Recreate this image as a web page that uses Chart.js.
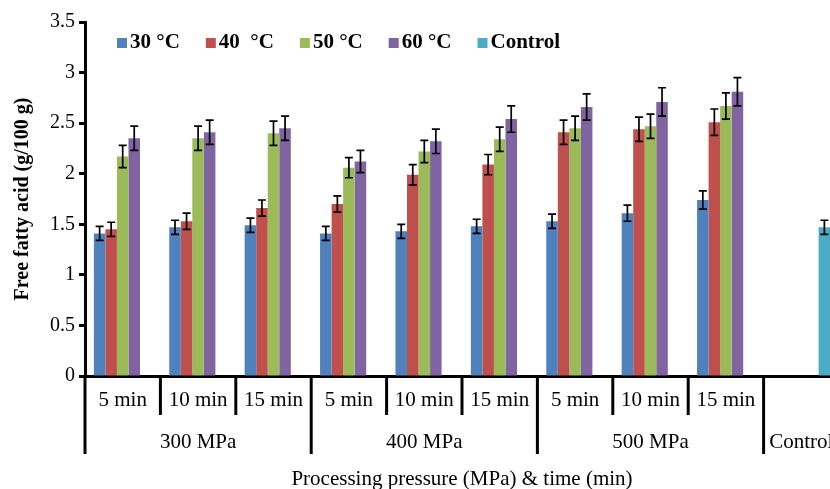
<!DOCTYPE html>
<html lang="en">
<head>
<meta charset="UTF-8">
<title>Free fatty acid</title>
<script src="https://cdn.jsdelivr.net/npm/chart.js"></script>
<style>
  html, body { margin: 0; padding: 0; background: #fff; overflow: hidden; }
  .chart-container { width: 850px; height: 489px; position: relative; }
</style>
</head>
<body>
<div class="chart-container"><canvas id="chart"></canvas></div>
<script>
const timeLabels = ['5 min', '10 min', '15 min', '5 min', '10 min', '15 min', '5 min', '10 min', '15 min', ''];
const pressureLabels = ['300 MPa', '400 MPa', '500 MPa', 'Control'];
const pressureSpans = [3, 3, 3, 1];

const seriesNames = ['30 °C', '40  °C', '50 °C', '60 °C', 'Control'];
const seriesColors = ['#4F81BD', '#C0504D', '#9BBB59', '#8064A2', '#4BACC6'];

const t30 = [1.41, 1.47, 1.49, 1.41, 1.43, 1.48, 1.53, 1.61, 1.74, null];
const t40 = [1.45, 1.53, 1.66, 1.70, 1.99, 2.09, 2.41, 2.44, 2.51, null];
const t50 = [2.17, 2.35, 2.40, 2.06, 2.22, 2.34, 2.45, 2.47, 2.67, null];
const t60 = [2.35, 2.41, 2.45, 2.12, 2.32, 2.54, 2.66, 2.71, 2.81, null];
const control = [null, null, null, null, null, null, null, null, null, 1.47];

// half length of the error bars
const err30 = [0.07, 0.07, 0.07, 0.07, 0.07, 0.07, 0.07, 0.08, 0.09, null];
const err40 = [0.07, 0.08, 0.08, 0.08, 0.10, 0.10, 0.12, 0.12, 0.13, null];
const err50 = [0.11, 0.12, 0.12, 0.10, 0.11, 0.12, 0.12, 0.12, 0.13, null];
const err60 = [0.12, 0.12, 0.12, 0.11, 0.12, 0.13, 0.13, 0.14, 0.14, null];
const errControl = [null, null, null, null, null, null, null, null, null, 0.07];

const yTicks = [0, 0.5, 1, 1.5, 2, 2.5, 3, 3.5];

const serif = "'Times New Roman', 'Liberation Serif', serif";

const allValues = [t30, t40, t50, t60, control];
const allErrors = [err30, err40, err50, err60, errControl];

const errorBars = {
    id: 'errorBars',
    afterDatasetsDraw(chart) {
        const ctx = chart.ctx;
        const y = chart.scales.y;
        ctx.save();
        ctx.strokeStyle = '#000';
        ctx.lineWidth = 1.7;
        chart.data.datasets.forEach((ds, di) => {
            const meta = chart.getDatasetMeta(di);
            meta.data.forEach((bar, i) => {
                const v = ds.data[i];
                const e = ds.errors[i];
                if (v == null || e == null) return;
                const top = y.getPixelForValue(v + e);
                const bot = y.getPixelForValue(v - e);
                ctx.beginPath();
                ctx.moveTo(bar.x, top); ctx.lineTo(bar.x, bot);
                ctx.moveTo(bar.x - 4, top); ctx.lineTo(bar.x + 4, top);
                ctx.moveTo(bar.x - 4, bot); ctx.lineTo(bar.x + 4, bot);
                ctx.stroke();
            });
        });
        ctx.restore();
    }
};

const groupAxis = {
    id: 'groupAxis',
    afterDraw(chart) {
        const ctx = chart.ctx;
        const x = chart.scales.x;
        const base = chart.chartArea.bottom;
        const step = (x.right - x.left) / timeLabels.length;
        ctx.save();
        ctx.strokeStyle = '#000';
        ctx.lineWidth = 3;
        // boundary ticks between categories, longer ones between pressure groups
        const groupStarts = [0];
        pressureSpans.forEach(n => groupStarts.push(groupStarts[groupStarts.length - 1] + n));
        for (let i = 0; i <= timeLabels.length; i++) {
            const px = x.left + i * step;
            const long = groupStarts.includes(i);
            ctx.beginPath();
            ctx.moveTo(px, base);
            ctx.lineTo(px, base + (long ? 78 : 39));
            ctx.stroke();
        }
        ctx.fillStyle = '#000';
        ctx.font = '21px ' + serif;
        ctx.textAlign = 'center';
        ctx.textBaseline = 'middle';
        pressureLabels.forEach((lab, g) => {
            const a = x.left + groupStarts[g] * step;
            const b = x.left + groupStarts[g + 1] * step;
            ctx.fillText(lab, (a + b) / 2, base + 66);
        });

        // legend inside the plot
        let lx = 117;
        const ly = 43;
        ctx.font = 'bold 21px ' + serif;
        ctx.textAlign = 'left';
        seriesNames.forEach((name, i) => {
            ctx.fillStyle = seriesColors[i];
            ctx.fillRect(lx, ly - 5, 10, 10);
            ctx.fillStyle = '#000';
            ctx.fillText(name, lx + 13, ly);
            lx += 13 + ctx.measureText(name).width + 26;
        });
        ctx.restore();
    }
};

new Chart(document.getElementById('chart'), {
    type: 'bar',
    data: {
        labels: timeLabels,
        datasets: seriesNames.map((name, i) => ({
            label: name,
            data: allValues[i],
            errors: allErrors[i],
            backgroundColor: seriesColors[i],
            borderWidth: 0,
            categoryPercentage: 0.765,
            barPercentage: 1.0
        }))
    },
    options: {
        responsive: true,
        maintainAspectRatio: false,
        animation: false,
        layout: { padding: { top: 22, right: 11, left: 0, bottom: 0 } },
        plugins: {
            legend: { display: false },
            tooltip: { enabled: false }
        },
        scales: {
            x: {
                grid: { display: false, drawTicks: false },
                border: { display: true, color: '#000', width: 3 },
                ticks: {
                    color: '#000',
                    font: { family: serif, size: 21 },
                    padding: 12,
                    maxRotation: 0,
                    autoSkip: false
                },
                title: {
                    display: true,
                    text: 'Processing pressure (MPa) & time (min)',
                    color: '#000',
                    font: { family: serif, size: 21 },
                    padding: { top: 0, bottom: -3 }
                },
                afterFit(scale) { scale.height = 113; }
            },
            y: {
                min: 0,
                max: 3.5,
                afterBuildTicks(scale) { scale.ticks = yTicks.map(v => ({ value: v })); },
                grid: {
                    drawOnChartArea: false,
                    drawTicks: true,
                    tickLength: 6,
                    tickWidth: 3,
                    tickColor: '#000'
                },
                border: { display: true, color: '#000', width: 3 },
                ticks: {
                    color: '#000',
                    font: { family: serif, size: 20 },
                    padding: 4,
                    callback: v => String(v)
                },
                title: {
                    display: true,
                    text: 'Free fatty acid (g/100 g)',
                    color: '#000',
                    font: { family: serif, size: 20, weight: 'bold' },
                    padding: { top: 11, bottom: 0 }
                },
                afterFit(scale) { scale.width = 85; }
            }
        }
    },
    plugins: [errorBars, groupAxis]
});
</script>
</body>
</html>
